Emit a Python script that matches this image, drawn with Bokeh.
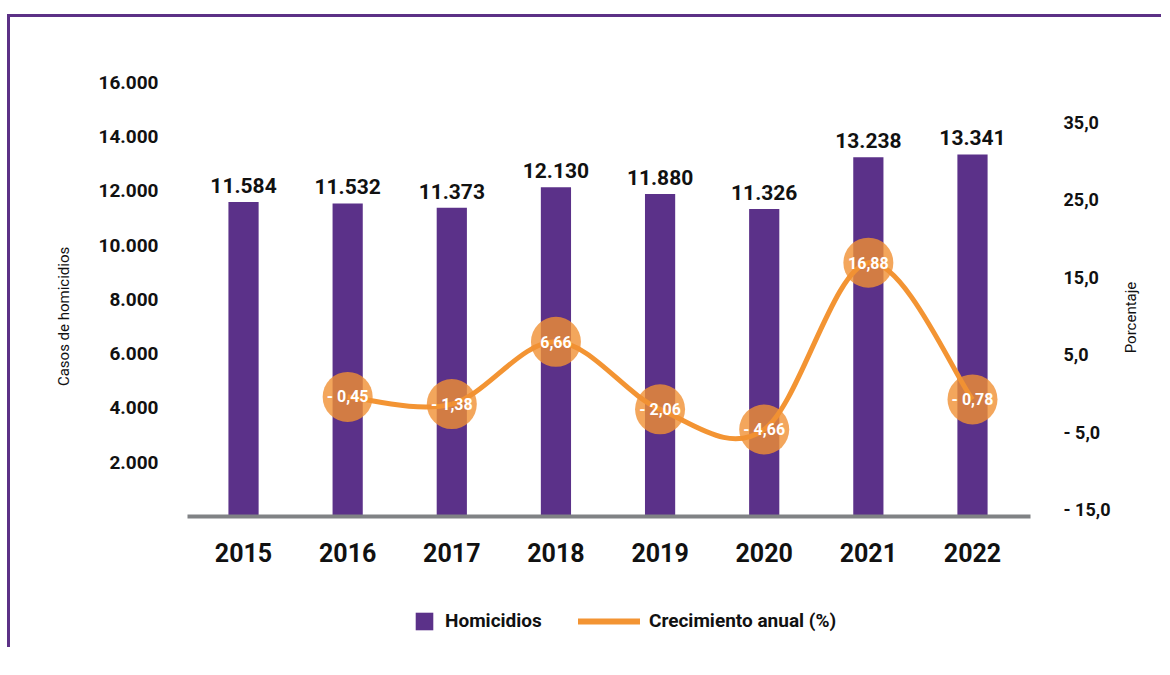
import math
from bokeh.plotting import figure
from bokeh.layouts import column, row
from bokeh.models import Range1d, LinearAxis, FixedTicker, Legend, LegendItem, ColumnDataSource
from bokeh.embed import file_html
from bokeh.resources import INLINE
from bokeh.core.properties import value

# ---- data ----
years = [2015, 2016, 2017, 2018, 2019, 2020, 2021, 2022]
homicidios = [11584, 11532, 11373, 12130, 11880, 11326, 13238, 13341]
growth_years = [2016, 2017, 2018, 2019, 2020, 2021, 2022]
crecimiento = [-0.45, -1.38, 6.66, -2.06, -4.66, 16.88, -0.78]
left_ticks = [2000, 4000, 6000, 8000, 10000, 12000, 14000, 16000]
right_ticks = [-15, -5, 5, 15, 25, 35]

FONT = "Roboto"
PURPLE = "#5B3189"
ORANGE = "#F39433"
CIRCLE = "#F09033"
GRAY = "#808285"
INK = "#111111"
FRAME = "#5C3186"
NBSP = "\u00a0"


def fmt_thousands(v):
    return f"{v:,}".replace(",", ".")


def fmt_pct(v, nd):
    s = f"{abs(v):.{nd}f}".replace(".", ",")
    return ("- " + s) if v < 0 else s


p = figure(width=1111, height=570, output_backend="svg", toolbar_location=None,
           x_range=Range1d(2014.462, 2022.557), y_range=Range1d(0, 16800),
           min_border_left=177, min_border_right=91, min_border_top=43, min_border_bottom=71,
           outline_line_color=None)
p.extra_y_ranges = {"pct": Range1d(-15.9, 43.0)}
p.xgrid.visible = False
p.ygrid.visible = False

# bars
bar_src = ColumnDataSource(dict(x=years, top=homicidios,
                                label=[fmt_thousands(v) for v in homicidios]))
r_bar = p.vbar(x="x", top="top", width=0.29, bottom=0, source=bar_src,
               fill_color=PURPLE, line_color=None)
p.text(x="x", y="top", text="label", source=bar_src, y_offset=-9,
       text_align="center", text_baseline="bottom", text_font=value(FONT),
       text_font_style="bold", text_font_size="21px", text_color=INK)

# smooth line (Catmull-Rom bezier through the data points)
pts = list(zip(growth_years, crecimiento))
n = len(pts)
bz = dict(x0=[], y0=[], x1=[], y1=[], cx0=[], cy0=[], cx1=[], cy1=[])
for i in range(n - 1):
    pp = pts[i - 1] if i > 0 else pts[i]
    a = pts[i]
    b = pts[i + 1]
    nn = pts[i + 2] if i + 2 < n else pts[i + 1]
    bz["x0"].append(a[0]); bz["y0"].append(a[1])
    bz["x1"].append(b[0]); bz["y1"].append(b[1])
    bz["cx0"].append(a[0] + (b[0] - pp[0]) / 6.0)
    bz["cy0"].append(a[1] + (b[1] - pp[1]) / 6.0)
    bz["cx1"].append(b[0] - (nn[0] - a[0]) / 6.0)
    bz["cy1"].append(b[1] - (nn[1] - a[1]) / 6.0)
p.bezier(source=ColumnDataSource(bz), x0="x0", y0="y0", x1="x1", y1="y1",
         cx0="cx0", cy0="cy0", cx1="cx1", cy1="cy1",
         line_color=ORANGE, line_width=5, y_range_name="pct")

pt_src = ColumnDataSource(dict(x=growth_years, y=crecimiento,
                               label=[fmt_pct(v, 2) for v in crecimiento]))
p.scatter(x="x", y="y", source=pt_src, size=50, fill_color=CIRCLE, fill_alpha=0.8,
          line_color=None, y_range_name="pct")
p.text(x="x", y="y", text="label", source=pt_src, y_range_name="pct",
       text_align="center", text_baseline="middle", text_font=value(FONT),
       text_font_style="bold", text_font_size="16px", text_color="white")

# axes
xa = p.xaxis[0]
xa.ticker = FixedTicker(ticks=years)
xa.axis_line_color = GRAY
xa.axis_line_width = 4
xa.major_tick_line_color = None
xa.minor_tick_line_color = None
xa.major_label_standoff = 20
xa.major_label_text_font = FONT
xa.major_label_text_font_style = "bold"
xa.major_label_text_font_size = "25px"
xa.major_label_text_color = INK

ya = p.yaxis[0]
ya.ticker = FixedTicker(ticks=left_ticks)
ya.major_label_overrides = {t: fmt_thousands(t) for t in left_ticks}
ya.axis_line_color = None
ya.major_tick_line_color = None
ya.minor_tick_line_color = None
ya.major_label_standoff = 23
ya.major_label_text_font = FONT
ya.major_label_text_font_style = "bold"
ya.major_label_text_font_size = "19px"
ya.major_label_text_color = INK
ya.axis_label = "Casos de homicidios" + NBSP * 15
ya.axis_label_standoff = 22
ya.axis_label_text_font = FONT
ya.axis_label_text_font_style = "normal"
ya.axis_label_text_font_size = "15px"
ya.axis_label_text_color = INK

ra = LinearAxis(y_range_name="pct", ticker=FixedTicker(ticks=right_ticks))
ra.major_label_overrides = {t: fmt_pct(t, 1) for t in right_ticks}
ra.axis_line_color = None
ra.major_tick_line_color = None
ra.minor_tick_line_color = None
ra.major_label_standoff = 27
ra.major_label_text_font = FONT
ra.major_label_text_font_style = "bold"
ra.major_label_text_font_size = "18px"
ra.major_label_text_color = INK
p.add_layout(ra, "right")

# legend strip (separate figure so the legend is not clipped)
lf = figure(width=1111, height=60, output_backend="svg", toolbar_location=None,
            x_axis_type=None, y_axis_type=None, min_border=0, outline_line_color=None,
            x_range=Range1d(0, 1), y_range=Range1d(0, 1))
lf.xgrid.visible = False
lf.ygrid.visible = False
# proxies kept outside the visible range: they only supply the legend swatches
r_leg_bar = lf.vbar(x=[-10], top=[-10], width=0.5, fill_color=PURPLE, line_color=None)
r_leg_line = lf.line(x=[-10, -9], y=[-10, -10], line_color=ORANGE, line_width=6,
                     line_cap="round")

common = dict(padding=0, margin=0, border_line_color=None, background_fill_alpha=0,
              label_text_font=FONT, label_text_font_style="bold",
              label_text_font_size="19px", label_text_color=INK,
              label_height=22)
leg1 = Legend(items=[LegendItem(label="Homicidios", renderers=[r_leg_bar])],
              location=(226, 15), glyph_width=22, glyph_height=22, label_standoff=10,
              **common)
leg2 = Legend(items=[LegendItem(label="Crecimiento anual (%)", renderers=[r_leg_line])],
              location=(391, 15), glyph_width=62, glyph_height=22, label_standoff=9,
              **common)
lf.add_layout(leg1)
lf.add_layout(leg2)

# right-hand strip carrying the rotated "Porcentaje" title (reads bottom-to-top)
rf = figure(width=40, height=630, output_backend="svg", toolbar_location=None,
            x_axis_type=None, y_axis_type=None, min_border=0, outline_line_color=None,
            x_range=Range1d(0, 40), y_range=Range1d(0, 630))
rf.xgrid.visible = False
rf.ygrid.visible = False
rf.text(x=[9], y=[330], text=["Porcentaje"], angle=math.pi / 2,
        text_align="center", text_baseline="middle", text_font=value(FONT),
        text_font_size="15px", text_color=INK)

layout = row(column(p, lf, spacing=0), rf, spacing=0,
             styles={"border-left": f"3px solid {FRAME}", "border-top": f"3px solid {FRAME}",
                     "margin-left": "7px", "margin-top": "14px"})

open("out.html", "w").write(file_html(layout, INLINE))
